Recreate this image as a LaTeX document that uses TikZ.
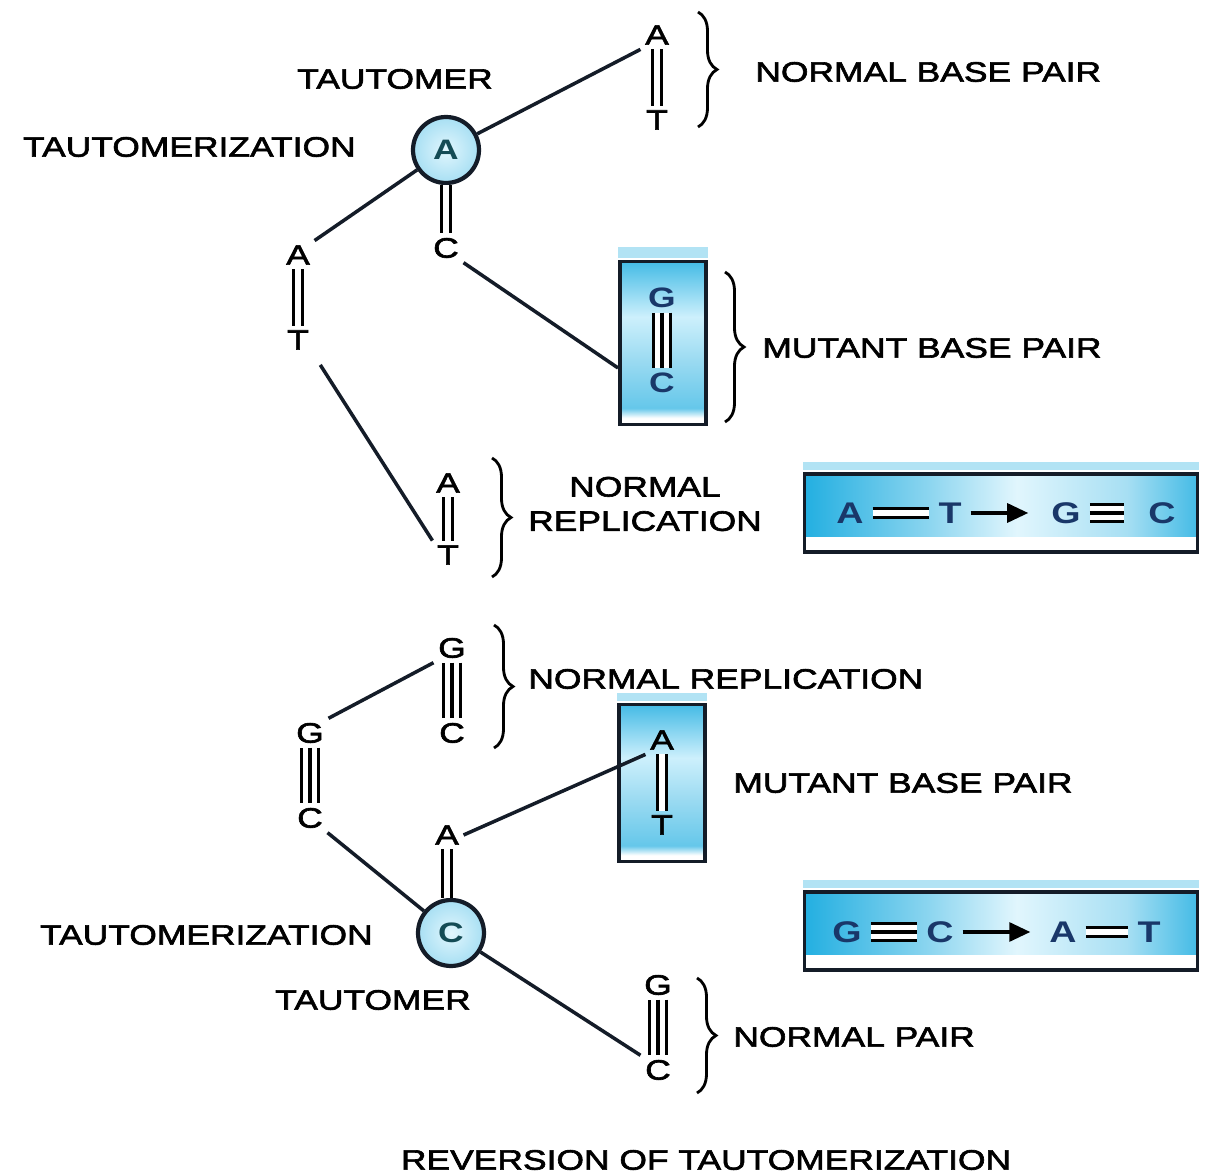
\documentclass[tikz,border=0pt]{standalone}
\usepackage{fontspec}
\setmainfont[FakeStretch=1.26, UprightFeatures={FakeBold=2.2}]{Liberation Sans}
\usetikzlibrary{shapes.geometric, arrows.meta, decorations.pathreplacing, calc}
\definecolor{skyc}{RGB}{35,175,225}
\definecolor{paleskyc}{RGB}{205,240,252}
\definecolor{inkline}{RGB}{20,28,40}
\definecolor{basecol}{RGB}{25,55,105}
\definecolor{tautcol}{RGB}{20,75,85}
\pgfdeclareverticalshading{mutantshade}{100bp}{color(0bp)=(white); color(27bp)=(white); color(30bp)=(skyc!70); color(45bp)=(skyc!45); color(58bp)=(paleskyc); color(75bp)=(skyc!85); color(100bp)=(skyc!85)}
\pgfdeclarehorizontalshading{swapshade}{100bp}{color(0bp)=(skyc); color(25bp)=(skyc); color(40bp)=(skyc!55); color(52bp)=(paleskyc!60); color(66bp)=(skyc!40); color(75bp)=(skyc!85); color(100bp)=(skyc!85)}
\tikzstyle{lbl} = [font=\fontsize{16}{19.5}\selectfont, inner sep=0pt]
\tikzstyle{nuc} = [font=\fontsize{16}{19.5}\selectfont, inner sep=2.5pt]
\tikzstyle{boxnuc} = [nuc, font=\bfseries\fontsize{16}{19.5}\selectfont, text=basecol]
\tikzstyle{swapnuc} = [font=\bfseries\fontsize{17}{20}\selectfont, text=basecol, inner sep=5pt]
\tikzstyle{tautomer} = [circle, draw=inkline, line width=2.4pt, minimum size=1.32cm, inner sep=0pt, inner color=paleskyc!60, outer color=skyc!40, font=\bfseries\fontsize{16}{19.5}\selectfont, text=tautcol]
\tikzstyle{mutantbox} = [rectangle, draw=inkline, line width=2.2pt, minimum width=1.72cm, shade, shading=mutantshade]
\tikzstyle{swapbox} = [rectangle, draw=inkline, line width=2.2pt, minimum width=7.86cm, minimum height=1.57cm, shade, shading=swapshade, path picture={\fill[white] (path picture bounding box.south west) rectangle ([yshift=0.3cm]path picture bounding box.south east);}]
\tikzstyle{glow} = [fill=skyc!35]
\tikzstyle{link} = [line width=2pt, draw=inkline]
\tikzstyle{dbl} = [line width=1.8pt, double distance=3.4pt]
\tikzstyle{trpl} = [line width=1.8pt, double distance=7.6pt, postaction={draw, line width=1.8pt}]
\tikzstyle{brc} = [decorate, decoration={brace, amplitude=0.38cm}, line width=1.6pt]
\tikzstyle{arrow} = [line width=1.8pt, -{Triangle[length=0.42cm, width=0.38cm]}]

\begin{document}
\begin{tikzpicture}[x=0.02cm, y=-0.02cm, node distance=1.7cm]
\useasboundingbox[fill=white] (0,0) rectangle (1208,1175);

% A tautomer and its pairings
\node (tA) [tautomer] at (446,150) {A};
\node (tmA) [lbl] at (395,79) {TAUTOMER};
\node (tzA) [lbl, anchor=east] at (356,147) {TAUTOMERIZATION};
\node (cA) [nuc] at (446,248) {C};
\node (a1) [nuc] at (657,35) {A};
\node (t1) [nuc, below of=a1] {T};
\node (nbp) [lbl, anchor=west] at (755,72) {NORMAL BASE PAIR};
\node (a2) [nuc] at (298,255) {A};
\node (t2) [nuc, below of=a2] {T};
\node (m1) [mutantbox, minimum height=3.26cm] at (663,343) {};
\node (gm1) [boxnuc] at (662,298) {G};
\node (cm1) [boxnuc, below of=gm1] {C};
\node (mbp1) [lbl, anchor=west] at (762,348) {MUTANT BASE PAIR};
\node (a3) [nuc] at (448,483) {A};
\node (t3) [nuc, below of=a3, yshift=0.26cm] {T};
\node (nrep1) [lbl, align=center] at (645,504) {NORMAL\\REPLICATION};
\node (s1) [swapbox] at (1001,513) {};
\node (sA1) [swapnuc] at (850,513) {A};
\node (sT1) [swapnuc] at (950,513) {T};
\node (sG1) [swapnuc] at (1066,513) {G};
\node (sC1) [swapnuc] at (1162,513) {C};

% C tautomer and its pairings
\node (g5) [nuc] at (452,648) {G};
\node (c5) [nuc, below of=g5] {C};
\node (nrep2) [lbl, anchor=west] at (528,679) {NORMAL REPLICATION};
\node (g4) [nuc] at (310,733) {G};
\node (c4) [nuc, below of=g4] {C};
\node (m2) [mutantbox, minimum height=3.14cm] at (662,783) {};
\node (am2) [nuc] at (662,740) {A};
\node (tm2) [nuc, below of=am2] {T};
\node (mbp2) [lbl, anchor=west] at (733,783) {MUTANT BASE PAIR};
\node (a6) [nuc] at (447,835) {A};
\node (tC) [tautomer] at (451,933) {C};
\node (tzC) [lbl, anchor=east] at (373,935) {TAUTOMERIZATION};
\node (tmC) [lbl] at (373,1000) {TAUTOMER};
\node (s2) [swapbox] at (1001,931) {};
\node (sG2) [swapnuc] at (847,932) {G};
\node (sC2) [swapnuc] at (940,932) {C};
\node (sA2) [swapnuc] at (1063,932) {A};
\node (sT2) [swapnuc] at (1149,932) {T};
\node (g6) [nuc] at (658,985) {G};
\node (c6) [nuc, below of=g6] {C};
\node (np) [lbl, anchor=west] at (733,1037) {NORMAL PAIR};
\node (rev) [lbl] at (706,1160) {REVERSION OF TAUTOMERIZATION};

\fill [glow] ([yshift=1.1pt]m1.north west) rectangle ([yshift=0.25cm]m1.north east);
\fill [glow] ([yshift=1.1pt]m2.north west) rectangle ([yshift=0.2cm]m2.north east);
\fill [glow] ([yshift=1.1pt]s1.north west) rectangle ([yshift=0.2cm]s1.north east);
\fill [glow] ([yshift=1.1pt]s2.north west) rectangle ([yshift=0.2cm]s2.north east);

\draw [link] (tA) -- (a1.south west);
\draw [link] (tA) -- (a2.north east);
\draw [link] (cA.south east) -- ($(m1.west)+(0,25)$);
\draw [link, shorten <=0.25cm] (t2.south east) -- (t3.north west);
\draw [link] (g4.north east) -- (g5.south west);
\draw [link] (c4.south east) -- (tC);
\draw [link] (a6.east) -- (am2.south west);
\draw [link] (tC) -- (c6.north west);

\draw [dbl] (a1.south) -- (t1.north);
\draw [dbl] (tA.south) -- (cA.north);
\draw [dbl] (a2.south) -- (t2.north);
\draw [trpl] (gm1.south) -- (cm1.north);
\draw [dbl] (a3.south) -- (t3.north);
\draw [trpl] (g5.south) -- (c5.north);
\draw [trpl] (g4.south) -- (c4.north);
\draw [dbl] (a6.south) -- (a6.south |- tC.north);
\draw [dbl] (am2.south) -- (tm2.north);
\draw [trpl] (g6.south) -- (c6.north);

\draw [dbl] (sA1.east) -- (sT1.west);
\draw [arrow, shorten >=0.28cm] (sT1.east) -- (sG1.west);
\draw [trpl, shorten >=0.3cm] (sG1.east) -- (sC1.west);
\draw [trpl] (sG2.east) -- (sC2.west);
\draw [arrow, shorten >=0.2cm] (sC2.east) -- (sA2.west);
\draw [dbl] (sA2.east) -- (sT2.west);

\draw [brc] (698,12) -- (698,127);
\draw [brc] (725,272) -- (725,422);
\draw [brc] (492,458) -- (492,577);
\draw [brc] (494,625) -- (494,748);
\draw [brc] (697,978) -- (697,1093);
\end{tikzpicture}
\end{document}
